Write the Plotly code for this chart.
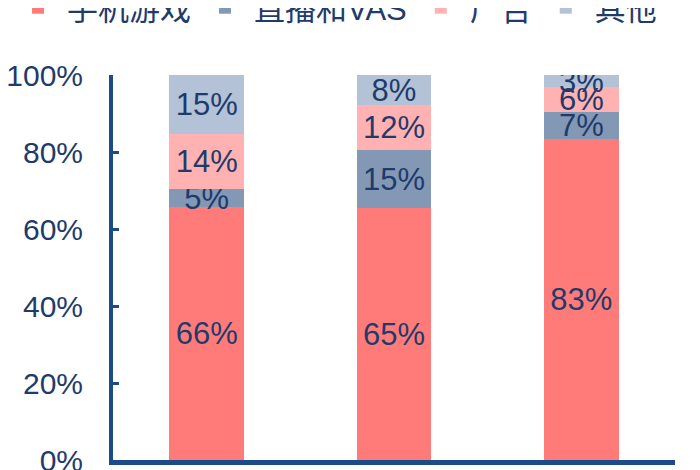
import plotly.graph_objs as go

# 三个时期的收入结构（读图估算，单位 %）
categories = ["A", "B", "C"]
series_names = ["手机游戏", "直播和VAS", "广告", "其他"]
mobile_game = [65.6, 65.4, 83.4]
live_vas = [4.7, 15.1, 7.0]
ads = [14.4, 11.7, 6.4]
others = [15.3, 7.8, 3.2]
y_ticks = [0, 20, 40, 60, 80, 100]
y_tick_labels = ["0%", "20%", "40%", "60%", "80%", "100%"]

colors = ["#FF7B79", "#8298B5", "#FFB2B1", "#B3C2D6"]
navy = "#1F3B6B"
axis_blue = "#1B4C87"

fig = go.Figure()

for name, values, color in zip(series_names, [mobile_game, live_vas, ads, others], colors):
    fig.add_trace(
        go.Bar(
            x=categories,
            y=values,
            name=name,
            marker=dict(color=color, line=dict(width=0)),
            text=[f"{v:.0f}%" for v in values],
            textposition="inside",
            insidetextanchor="middle",
            constraintext="none",
            textfont=dict(color=navy, size=31, family="Liberation Sans, Arial"),
        )
    )

# 页面自带 8px 边距，这里的边距已扣掉
fig.update_layout(
    barmode="stack",
    bargap=0.6,
    width=700,
    height=470,
    margin=dict(l=105, r=33, t=67, b=18, autoexpand=False),
    paper_bgcolor="white",
    plot_bgcolor="white",
    font=dict(family="Liberation Sans, Arial", color=navy, size=31),
    legend=dict(
        orientation="h",
        traceorder="normal",
        x=-0.185,
        y=1.244,
        xanchor="left",
        yanchor="top",
        itemwidth=48,
        font=dict(size=31, color=navy, family="Liberation Sans, Noto Sans CJK SC"),
        bgcolor="rgba(0,0,0,0)",
    ),
)

fig.update_yaxes(
    range=[0, 100],
    tickvals=y_ticks,
    ticktext=y_tick_labels,
    showgrid=False,
    zeroline=False,
    showline=True,
    linecolor=axis_blue,
    linewidth=4,
    ticks="inside",
    ticklen=6,
    tickwidth=3,
    tickcolor=axis_blue,
    ticklabelstandoff=20,
    tickfont=dict(size=30, color=navy),
)
fig.update_xaxes(
    showticklabels=False,
    showgrid=False,
    zeroline=False,
    showline=True,
    linecolor=axis_blue,
    linewidth=5,
    ticks="",
)

fig.write_html("out.html")
